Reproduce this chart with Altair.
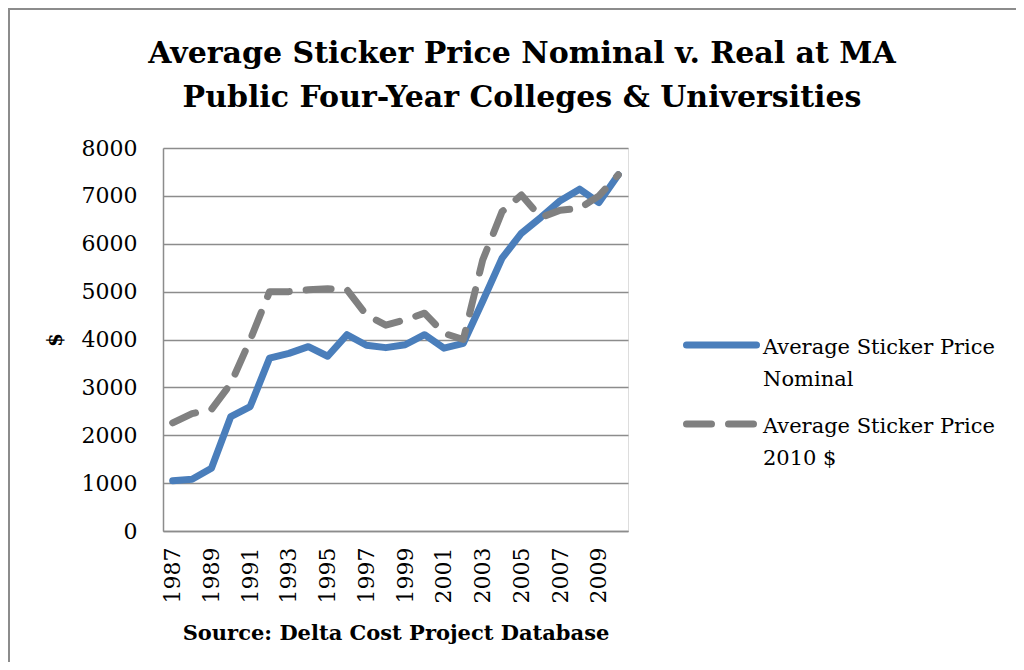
import altair as alt
import pandas as pd

years = list(range(1987, 2011))
nominal = [1050, 1080, 1310, 2390, 2600, 3610, 3710, 3850, 3650, 4100, 3880, 3830,
           3890, 4100, 3820, 3920, 4800, 5700, 6220, 6550, 6900, 7140, 6860, 7440]
real2010 = [2260, 2450, 2540, 3080, 3990, 5000, 5000, 5040, 5060, 5040, 4510, 4300,
            4410, 4550, 4130, 4000, 5660, 6670, 7020, 6550, 6700, 6740, 7000, 7440]
series_names = ["Average Sticker Price Nominal", "Average Sticker Price 2010 $"]
legend_lines = [["Average Sticker Price", "Nominal"], ["Average Sticker Price", "2010 $"]]
colors = ["#4A7EBB", "#808080"]
y_ticks = [0, 1000, 2000, 3000, 4000, 5000, 6000, 7000, 8000]
x_ticks = list(range(1987, 2011, 2))
title_lines = ["Average Sticker Price Nominal v. Real at MA",
               "Public Four-Year Colleges & Universities"]
x_title = "Source: Delta Cost Project Database"

df = pd.DataFrame({
    "year": years * 2,
    "value": nominal + real2010,
    "series": [series_names[0]] * len(years) + [series_names[1]] * len(years),
})

SERIF = "DejaVu Serif"
DASH = [25, 17]

x_enc = alt.X("year:O", scale=alt.Scale(type="point", padding=0.5),
              axis=alt.Axis(values=x_ticks, labelAngle=270, ticks=False,
                            labelFont=SERIF, labelFontSize=22, labelColor="black",
                            labelPadding=16, domainColor="#8c8c8c", domainWidth=1.5,
                            title=x_title, titleFont=SERIF, titleFontSize=21,
                            titleFontWeight="bold", titleColor="black", titlePadding=20,
                            grid=False))
y_enc = alt.Y("value:Q", scale=alt.Scale(domain=[0, 8000], nice=False),
              axis=alt.Axis(values=y_ticks, format="d", ticks=False, labelFont=SERIF,
                            labelFontSize=22, labelColor="black", labelPadding=26,
                            domainColor="#8c8c8c", domainWidth=1.5,
                            gridColor="#8c8c8c", gridWidth=1.5,
                            title="$", titleFont=SERIF, titleFontSize=20,
                            titleFontWeight="bold", titleColor="black", titlePadding=16))

base = alt.Chart(df)
line_nom = base.transform_filter(alt.datum.series == series_names[0]).mark_line(
    strokeWidth=7, strokeCap="round", strokeJoin="round", color=colors[0]
).encode(x=x_enc, y=y_enc)
line_real = base.transform_filter(alt.datum.series == series_names[1]).mark_line(
    strokeWidth=7, strokeCap="round", strokeJoin="round", color=colors[1], strokeDash=DASH
).encode(x=x_enc, y=y_enc)

one = pd.DataFrame({"k": [0]})
leg_sym1 = alt.Chart(one).mark_rule(strokeWidth=7, strokeCap="round", color=colors[0]).encode(
    x=alt.value(523.5), x2=alt.value(593.5), y=alt.value(197))
leg_sym2 = alt.Chart(one).mark_rule(strokeWidth=7, strokeCap="round", color=colors[1],
                                    strokeDash=DASH).encode(
    x=alt.value(523.5), x2=alt.value(590.5), y=alt.value(276))
leg_txt1 = alt.Chart(one).mark_text(align="left", baseline="alphabetic", font=SERIF,
                                    fontSize=21, lineHeight=32, color="black").encode(
    x=alt.value(600), y=alt.value(206), text=alt.value(legend_lines[0]))
leg_txt2 = alt.Chart(one).mark_text(align="left", baseline="alphabetic", font=SERIF,
                                    fontSize=21, lineHeight=32, color="black").encode(
    x=alt.value(600), y=alt.value(285), text=alt.value(legend_lines[1]))
title_txt = alt.Chart(one).mark_text(align="center", baseline="alphabetic", font=SERIF,
                                     fontSize=30, fontWeight="bold", lineHeight=44,
                                     color="black").encode(
    x=alt.value(359), y=alt.value(-85), text=alt.value(title_lines))
border = alt.Chart(one).mark_rect(fillOpacity=0, stroke="#8c8c8c", strokeWidth=2).encode(
    x=alt.value(-154), x2=alt.value(1000), y=alt.value(-139), y2=alt.value(700))

chart = alt.layer(border, line_nom, line_real, leg_sym1, leg_sym2, leg_txt1, leg_txt2,
                  title_txt).properties(
    width=465, height=383,
    autosize=alt.AutoSizeParams(type="none"),
    padding={"left": 155, "top": 140, "right": 388, "bottom": 131},
).configure_view(stroke="transparent", strokeWidth=0, strokeOpacity=0).configure(background="white")

chart.save("out.html", embed_options={"renderer": "svg", "actions": False})
